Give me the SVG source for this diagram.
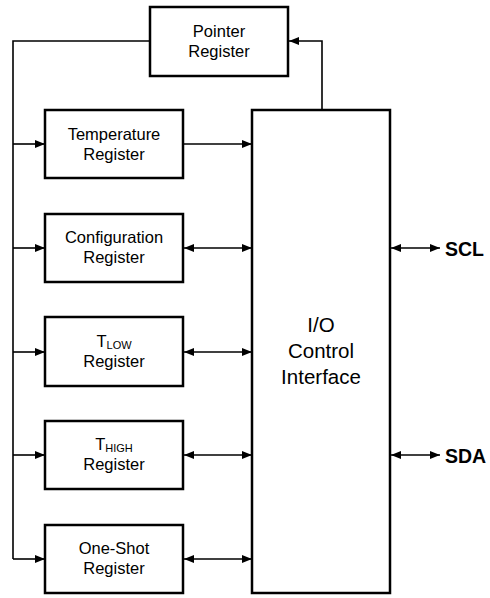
<svg xmlns="http://www.w3.org/2000/svg" width="490" height="598" viewBox="0 0 490 598">
<style>
.box{fill:#fff;stroke:#000;stroke-width:2.5}
.t{font-family:"Liberation Sans",Arial,sans-serif;font-size:16.5px;fill:#000;text-anchor:middle}
.big{font-family:"Liberation Sans",Arial,sans-serif;font-size:20.5px;fill:#000;text-anchor:middle}
.pin{font-family:"Liberation Sans",Arial,sans-serif;font-size:19.5px;font-weight:bold;fill:#000}
.sub{font-size:11px}
.ln{fill:none;stroke:#000;stroke-width:1.6}
</style>
<defs>
<marker id="ah" viewBox="0 0 10 8" refX="10" refY="4" markerWidth="11" markerHeight="8" markerUnits="userSpaceOnUse" orient="auto-start-reverse">
<path d="M0,0 L10,4 L0,8 Z" fill="#000"/>
</marker>
</defs>
<g id="connectors">
<polyline class="ln" points="150,41 13,41 13,559"/>
<line class="ln" x1="13" y1="144" x2="45" y2="144" marker-end="url(#ah)"/>
<line class="ln" x1="13" y1="248" x2="45" y2="248" marker-end="url(#ah)"/>
<line class="ln" x1="13" y1="352" x2="45" y2="352" marker-end="url(#ah)"/>
<line class="ln" x1="13" y1="455" x2="45" y2="455" marker-end="url(#ah)"/>
<line class="ln" x1="13" y1="559" x2="45" y2="559" marker-end="url(#ah)"/>
<polyline class="ln" points="322,110 322,41 289,41" marker-end="url(#ah)"/>
<line class="ln" x1="184" y1="144" x2="252" y2="144" marker-end="url(#ah)"/>
<line class="ln" x1="184" y1="248" x2="252" y2="248" marker-start="url(#ah)" marker-end="url(#ah)"/>
<line class="ln" x1="184" y1="352" x2="252" y2="352" marker-start="url(#ah)" marker-end="url(#ah)"/>
<line class="ln" x1="184" y1="455" x2="252" y2="455" marker-start="url(#ah)" marker-end="url(#ah)"/>
<line class="ln" x1="184" y1="559" x2="252" y2="559" marker-start="url(#ah)" marker-end="url(#ah)"/>
<line class="ln" x1="391" y1="248" x2="440" y2="248" marker-start="url(#ah)" marker-end="url(#ah)"/>
<line class="ln" x1="391" y1="455" x2="440" y2="455" marker-start="url(#ah)" marker-end="url(#ah)"/>
</g>
<g id="pointer">
<rect class="box" x="150" y="7" width="138" height="69"/>
<text class="t" x="219" y="37">Pointer</text>
<text class="t" x="219" y="57">Register</text>
</g>
<g id="temperature">
<rect class="box" x="45" y="110" width="138" height="68"/>
<text class="t" x="114" y="140">Temperature</text>
<text class="t" x="114" y="160">Register</text>
</g>
<g id="configuration">
<rect class="box" x="45" y="214" width="138" height="68"/>
<text class="t" x="114" y="243">Configuration</text>
<text class="t" x="114" y="263">Register</text>
</g>
<g id="tlow">
<rect class="box" x="45" y="317" width="138" height="69"/>
<text class="t" x="114" y="347">T<tspan class="sub" dy="2">LOW</tspan></text>
<text class="t" x="114" y="367">Register</text>
</g>
<g id="thigh">
<rect class="box" x="45" y="421" width="138" height="68"/>
<text class="t" x="114" y="450">T<tspan class="sub" dy="2">HIGH</tspan></text>
<text class="t" x="114" y="470">Register</text>
</g>
<g id="oneshot">
<rect class="box" x="45" y="525" width="138" height="68"/>
<text class="t" x="114" y="554">One-Shot</text>
<text class="t" x="114" y="574">Register</text>
</g>
<g id="io">
<rect class="box" x="252" y="110" width="138" height="483"/>
<text class="big" x="321" y="332">I/O</text>
<text class="big" x="321" y="358">Control</text>
<text class="big" x="321" y="384">Interface</text>
</g>
<g id="scl"><text class="pin" x="445" y="256">SCL</text></g>
<g id="sda"><text class="pin" x="445" y="463">SDA</text></g>
</svg>
